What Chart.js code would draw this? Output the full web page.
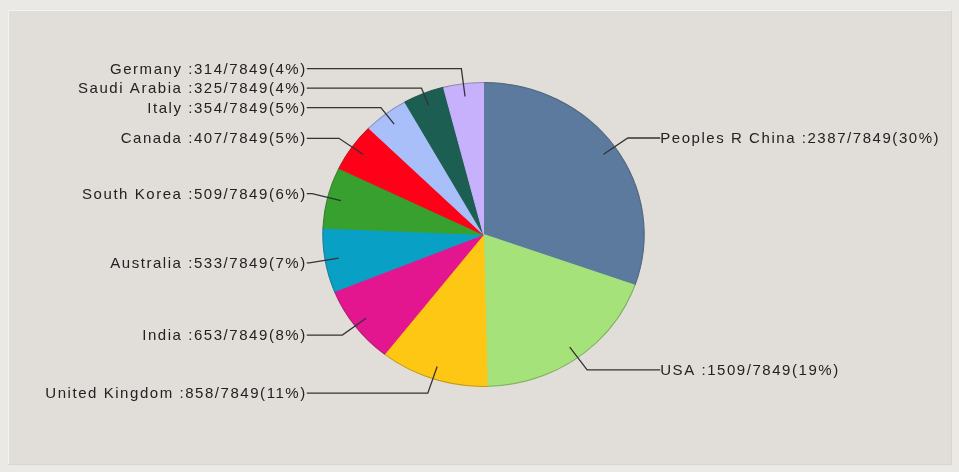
<!DOCTYPE html>
<html>
<head>
<meta charset="utf-8">
<script src="https://cdn.jsdelivr.net/npm/chart.js@4/dist/chart.umd.min.js"></script>
<style>
  html, body { margin: 0; padding: 0; background: #ebe9e5; }
  canvas { display: block; }
</style>
</head>
<body>
<canvas id="pieChart" width="959" height="472"></canvas>
<script>
// data, clockwise from 12 o'clock
const countries = ["Peoples R China", "USA", "United Kingdom", "India", "Australia",
  "South Korea", "Canada", "Italy", "Saudi Arabia", "Germany"];
const counts = [2387, 1509, 858, 653, 533, 509, 407, 354, 325, 314];
const sliceColors = ["#5c7a9d", "#a5e27a", "#fec713", "#e3158f", "#09a0c5",
  "#38a02e", "#fe0118", "#a9bff9", "#1c5e52", "#c7b0fc"];

const total = counts.reduce((a, b) => a + b, 0);
const SX = 1.057; // the original pie is a little wider than tall

const labelText = (i) =>
  countries[i] + " :" + counts[i] + "/" + total + "(" + Math.round(counts[i] / total * 100) + "%)";

// background panel
const framePlugin = {
  id: "frame",
  beforeDraw(chart) {
    const ctx = chart.ctx;
    ctx.save();
    ctx.fillStyle = "#ebe9e5";
    ctx.fillRect(0, 0, chart.width, chart.height);
    ctx.fillStyle = "#e1ded9";
    ctx.fillRect(8, 10, 944, 455);
    ctx.strokeStyle = "#f3f2ef";
    ctx.lineWidth = 1;
    ctx.beginPath();
    ctx.moveTo(8.5, 464.5); ctx.lineTo(8.5, 10.5); ctx.lineTo(951.5, 10.5);
    ctx.stroke();
    ctx.strokeStyle = "#d8d5cf";
    ctx.beginPath();
    ctx.moveTo(951.5, 10.5); ctx.lineTo(951.5, 464.5); ctx.lineTo(8.5, 464.5);
    ctx.stroke();
    ctx.restore();
  }
};

// stretch the pie horizontally
const stretchPlugin = {
  id: "stretch",
  beforeDatasetsDraw(chart) {
    const el = chart.getDatasetMeta(0).data[0];
    const ctx = chart.ctx;
    ctx.save();
    ctx.translate(el.x, 0);
    ctx.scale(SX, 1);
    ctx.translate(-el.x, 0);
  },
  afterDatasetsDraw(chart) {
    const el = chart.getDatasetMeta(0).data[0];
    const ctx = chart.ctx;
    // outline round the pie
    ctx.beginPath();
    ctx.arc(el.x, el.y, el.outerRadius, 0, Math.PI * 2);
    ctx.strokeStyle = "rgba(70,70,70,0.35)";
    ctx.lineWidth = 1;
    ctx.stroke();
    ctx.restore();
  }
};

// labels with leader lines
const labelPlugin = {
  id: "pieLabels",
  afterDraw(chart) {
    const ctx = chart.ctx;
    const arcs = chart.getDatasetMeta(0).data;
    const cx = arcs[0].x, cy = arcs[0].y, R = arcs[0].outerRadius;
    const spacing = 19.5;

    const items = arcs.map((el, i) => {
      const mid = (el.startAngle + el.endAngle) / 2;
      const dx = SX * Math.cos(mid), dy = Math.sin(mid);
      return { i, mid, dx, dy, right: Math.cos(mid) >= 0, y: cy + 1.1 * R * dy };
    });

    [true, false].forEach(side => {
      const list = items.filter(it => it.right === side).sort((a, b) => a.y - b.y);
      for (let k = 1; k < list.length; k++) {
        if (list[k].y < list[k - 1].y + spacing) list[k].y = list[k - 1].y + spacing;
      }
    });

    ctx.save();
    ctx.font = "15px 'Liberation Sans', Arial, sans-serif";
    ctx.letterSpacing = "1.55px";
    ctx.textBaseline = "middle";
    ctx.fillStyle = "#222";
    ctx.strokeStyle = "#333";
    ctx.lineWidth = 1.3;

    items.forEach(it => {
      const ax = cx + 0.915 * R * it.dx, ay = cy + 0.915 * R * it.dy;
      const edgeX = it.right ? cx + SX * 1.1 * R : cx - SX * 1.1 * R;
      let t = Math.abs(it.dy) > 0.05 ? (it.y - cy) / it.dy : 1.1 * R;
      let ex = cx + t * it.dx;
      if (it.right) ex = Math.min(ex, edgeX); else ex = Math.max(ex, edgeX);

      ctx.beginPath();
      ctx.moveTo(ax, ay);
      ctx.lineTo(ex, it.y);
      ctx.lineTo(edgeX, it.y);
      ctx.stroke();

      const txt = labelText(it.i);
      ctx.textAlign = "left";
      if (it.right) {
        ctx.fillText(txt, edgeX, it.y + 1);
      } else {
        const w = ctx.measureText(txt).width;
        ctx.fillText(txt, edgeX - w, it.y + 1);
      }
    });
    ctx.restore();
  }
};

new Chart(document.getElementById("pieChart"), {
  type: "pie",
  data: {
    labels: countries,
    datasets: [{
      data: counts,
      backgroundColor: sliceColors,
      borderColor: sliceColors,
      borderWidth: 1
    }]
  },
  options: {
    responsive: false,
    animation: false,
    layout: { padding: { top: 82, bottom: 85, left: 8, right: 0 } },
    plugins: {
      legend: { display: false },
      tooltip: { enabled: false }
    }
  },
  plugins: [framePlugin, stretchPlugin, labelPlugin]
});
</script>
</body>
</html>
